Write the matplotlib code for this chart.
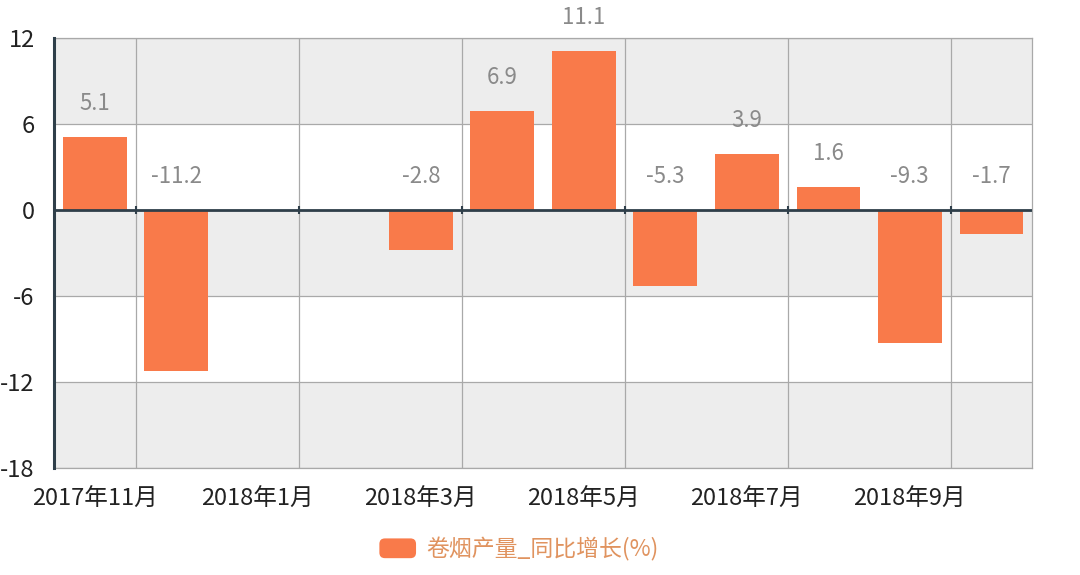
import numpy as np
import matplotlib
matplotlib.use("Agg")
import matplotlib.pyplot as plt
from matplotlib.patches import FancyBboxPatch, Patch
from matplotlib.legend_handler import HandlerPatch

plt.rcParams['font.family'] = ['Noto Sans CJK SC', 'DejaVu Sans']

# Data: cigarette output, year-on-year growth (%)
months = ['2017年11月', '2017年12月', '2018年1月', '2018年2月', '2018年3月', '2018年4月',
          '2018年5月', '2018年6月', '2018年7月', '2018年8月', '2018年9月', '2018年10月']
growth = [5.1, -11.2, np.nan, np.nan, -2.8, 6.9, 11.1, -5.3, 3.9, 1.6, -9.3, -1.7]
series_name = '卷烟产量_同比增长(%)'
y_ticks = [-18, -12, -6, 0, 6, 12]

bar_color = '#f97a4a'
band_color = '#ededed'
grid_color = '#a9a9a9'
axis_color = '#2f3f4a'

fig = plt.figure(figsize=(10.8, 5.75), dpi=100)
ax = fig.add_axes([0.05, 0.1861, 0.9056, 0.7478])

x = np.arange(len(months))
ax.set_xlim(-0.5, len(months) - 0.5)
ax.set_ylim(y_ticks[0], y_ticks[-1])

# alternating horizontal bands
for i in range(len(y_ticks) - 1):
    if i % 2 == 0:
        ax.axhspan(y_ticks[i], y_ticks[i + 1], color=band_color, lw=0, zorder=0)

bars = ax.bar(x, growth, width=0.78, color=bar_color, zorder=3, label=series_name)

# value labels above the bar top (or above the zero line for negative values)
for xi, v in zip(x, growth):
    if np.isnan(v):
        continue
    ax.annotate(f'{v:g}', xy=(xi, max(v, 0)), xytext=(0, 24), textcoords='offset points',
                ha='center', va='center', fontsize=16, color='#8a8a8a', zorder=4)

# axes: labels every other month, grid lines on the boundaries between pairs
ax.set_xticks(x[::2])
ax.set_xticklabels(months[::2], fontsize=17, color='#222222')
ax.set_xticks(x[::2] + 0.5, minor=True)
ax.tick_params(axis='x', which='both', length=0, pad=14)
ax.grid(True, which='minor', axis='x', color=grid_color, lw=0.9, zorder=1)

ax.set_yticks(y_ticks)
ax.set_yticklabels([str(t) for t in y_ticks], fontsize=17, color='#222222')
ax.tick_params(axis='y', length=0, pad=14)
ax.grid(True, which='major', axis='y', color=grid_color, lw=0.9, zorder=1)

for side in ['top', 'right', 'bottom']:
    ax.spines[side].set_color(grid_color)
    ax.spines[side].set_linewidth(0.9)
ax.spines['left'].set_color(axis_color)
ax.spines['left'].set_linewidth(2.2)
ax.spines['left'].set_zorder(5)

# zero axis line with small ticks at the split positions
ax.axhline(0, color=axis_color, lw=2, zorder=5)
ax.vlines(x[::2] + 0.5, -0.25, 0.25, color=axis_color, lw=1.5, zorder=5)


class RoundedHandler(HandlerPatch):
    def create_artists(self, legend, orig_handle, xdescent, ydescent, width, height,
                       fontsize, trans):
        p = FancyBboxPatch((-xdescent, -ydescent), width, height,
                           boxstyle='round,pad=0,rounding_size=4',
                           fc=orig_handle.get_facecolor(), ec='none', transform=trans)
        return [p]


handle = Patch(facecolor=bar_color)
fig.legend(handles=[handle], labels=[series_name], loc='center',
           bbox_to_anchor=(0.4806, 0.045), frameon=False, fontsize=16.5,
           labelcolor='#e0935f', handlelength=1.6, handleheight=0.95,
           handletextpad=0.45, handler_map={Patch: RoundedHandler()})

fig.savefig('out.png', dpi=100, facecolor='white')
